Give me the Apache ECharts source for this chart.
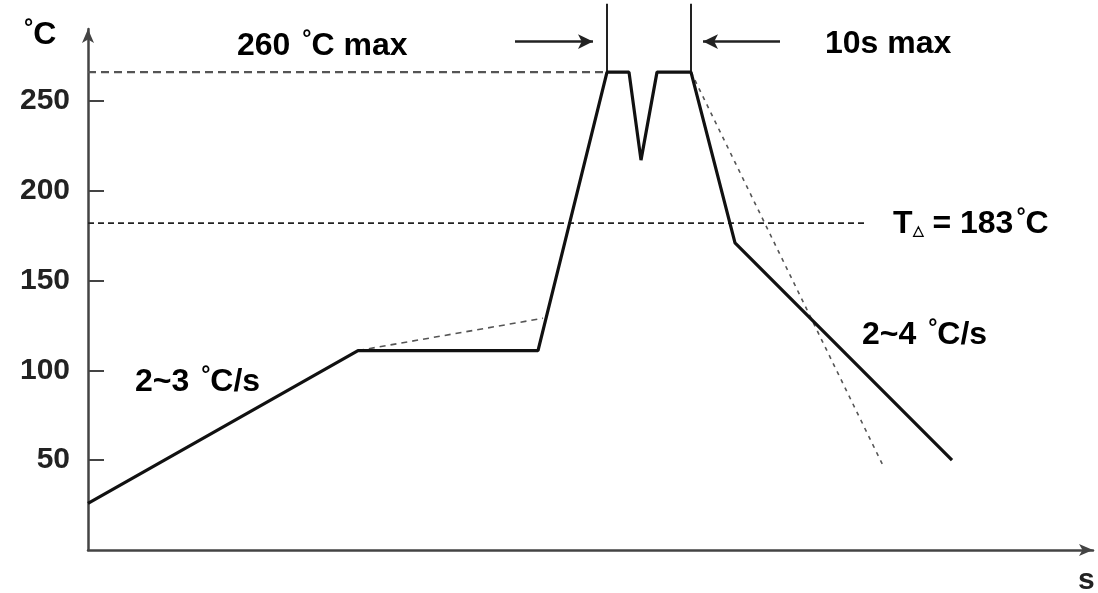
<!DOCTYPE html>
<html><head><meta charset="utf-8">
<script src="https://cdn.jsdelivr.net/npm/echarts@6/dist/echarts.min.js"></script>
<style>html,body{margin:0;padding:0;background:#fff}#c{width:1098px;height:593px}</style>
</head><body><div id="c"></div>
<script>
// Reflow profile (time units arbitrary, temperature in °C)
const profile = [[0,26],[270,111],[450,111],[519,266],[541,266],[553,217],[569,266],[603,266],[647,171],[864,50]];
const preheatGuide = [[270,111],[455,129]];
const coolingGuide = [[603,266],[795,47]];
const peakLine = [[0,266],[519,266]];
const liquidusLine = [[0,182],[777,182]];
const markerLeft = [[519,266],[519,304]];
const markerRight = [[603,266],[603,304]];
const arrowLeft = [[427,283],[505,283]];
const arrowRight = [[692,283],[615,283]];
const yTicks = [50,100,150,200,250];

const chart = echarts.init(document.getElementById('c'));
const FONT = '"Liberation Sans", Arial, sans-serif';
const RICH = {
  a:{fontFamily:FONT, fontWeight:'bold', fontSize:32, color:'#222', lineHeight:36},
  d:{fontFamily:FONT, fontWeight:'bold', fontSize:23, color:'#222', lineHeight:36, verticalAlign:'top', padding:[0,0,0,3]},
  b:{fontFamily:FONT, fontWeight:'bold', fontSize:14, color:'#222', lineHeight:36, verticalAlign:'bottom', padding:[0,0,4,0]}
};
const txt = (left, top, text) => ({type:'text', left, top, style:{rich:RICH, text}});
const plain = (data, color, width, type) => ({
  type:'line', data, symbol:'none', clip:false, silent:true,
  lineStyle:{color, width, type}, z:3
});
const arrowSeries = (data, rot) => ({
  type:'line', clip:false, silent:true, z:4,
  data:[{value:data[0], symbol:'none'},{value:data[1], symbol:'arrow', symbolSize:[11,15], symbolRotate:rot}],
  lineStyle:{color:'#222', width:2.5}, itemStyle:{color:'#222'}
});
chart.setOption({
  animation:false,
  backgroundColor:'#fff',
  grid:{left:88, right:5, top:29, bottom:43},
  xAxis:{type:'value', min:0, max:1005, axisLine:{show:true, symbol:['none','arrow'], symbolSize:[9,14], lineStyle:{color:'#444', width:2.5}},
    axisTick:{show:false}, axisLabel:{show:false}, splitLine:{show:false}},
  yAxis:{type:'value', min:0, max:290, axisLine:{show:true, symbol:['none','arrow'], symbolSize:[9,14], lineStyle:{color:'#444', width:2.5}},
    axisTick:{show:true, inside:true, length:16, customValues:yTicks, lineStyle:{color:'#444', width:2}},
    axisLabel:{customValues:yTicks, margin:18, fontFamily:FONT, fontWeight:'bold', fontSize:30, color:'#222'},
    splitLine:{show:false}},
  graphic:[
    txt(21, 17, '{d|°}{a|C}'),
    txt(237, 28, '{a|260 }{d|°}{a|C max}'),
    txt(825, 28, '{a|10s max}'),
    txt(893, 206, '{a|T}{b|△}{a| = 183}{d|°}{a|C}'),
    txt(135, 364, '{a|2~3 }{d|°}{a|C/s}'),
    txt(862, 317, '{a|2~4 }{d|°}{a|C/s}'),
    {type:'text', left:1078, top:566, style:{text:'s', font:'bold 30px '+FONT, fill:'#222'}}
  ],
  series:[
    plain(peakLine, '#555', 2.2, [8,5]),
    plain(liquidusLine, '#222', 1.8, [6,4]),
    plain(preheatGuide, '#555', 1.6, [6,5]),
    plain(coolingGuide, '#555', 1.6, [4,5]),
    plain(markerLeft, '#222', 2, 'solid'),
    plain(markerRight, '#222', 2, 'solid'),
    arrowSeries(arrowLeft, -90),
    arrowSeries(arrowRight, 90),
    Object.assign(plain(profile, '#111', 3.2, 'solid'), {z:5})
  ]
});
</script></body></html>
